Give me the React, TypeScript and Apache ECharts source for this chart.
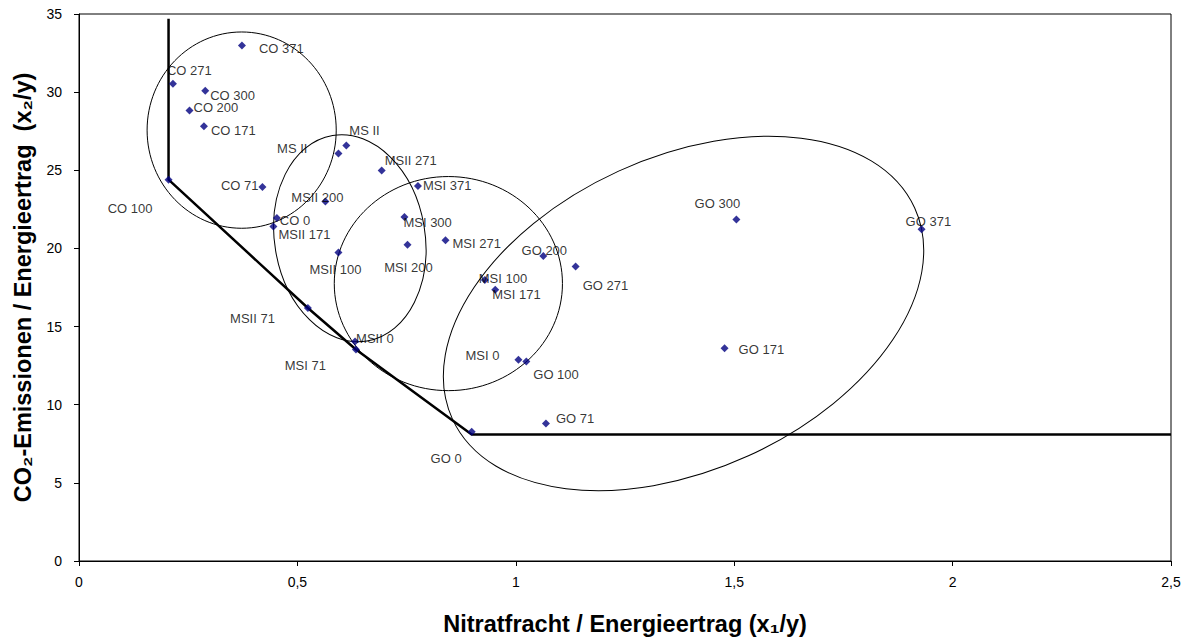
import React, { useEffect, useRef } from "react";
import * as echarts from "echarts";

// ---- data ----
const pointNames = [
  "CO 371", "CO 271", "CO 300", "CO 200", "CO 171", "CO 100", "CO 71", "CO 0",
  "MSII 171", "MS II", "MS II", "MSII 271", "MSI 371", "MSII 200", "MSI 300", "MSI 200",
  "MSII 100", "MSI 271", "MSII 71", "MSII 0", "MSI 71", "MSI 100", "MSI 171", "MSI 0",
  "GO 100", "GO 200", "GO 271", "GO 300", "GO 371", "GO 171", "GO 71", "GO 0",
];
const nitrat = [
  0.373, 0.215, 0.289, 0.253, 0.286, 0.205, 0.42, 0.453,
  0.445, 0.594, 0.612, 0.693, 0.776, 0.564, 0.745, 0.752,
  0.594, 0.839, 0.524, 0.632, 0.634, 0.929, 0.953, 1.006,
  1.024, 1.063, 1.137, 1.505, 1.929, 1.478, 1.069, 0.899,
];
const co2 = [
  32.98, 30.54, 30.09, 28.82, 27.81, 24.4, 23.93, 21.95,
  21.4, 26.07, 26.58, 24.99, 23.99, 23.0, 22.01, 20.23,
  19.74, 20.53, 16.19, 14.04, 13.53, 17.98, 17.36, 12.88,
  12.77, 19.51, 18.85, 21.85, 21.23, 13.62, 8.8, 8.27,
];
// efficiency front (thick black line)
const frontX = [0.205, 0.205, 0.524, 0.634, 0.899, 2.5];
const frontY = [34.7, 24.4, 16.19, 13.53, 8.1, 8.1];
// group ellipses: centre x, centre y, half-width (x units), half-height (y units), tilt (deg)
const ellCx = [0.3724, 0.62, 0.8456, 1.384];
const ellCy = [27.57, 20.65, 17.75, 15.84];
const ellRx = [0.2165, 0.1723, 0.2612, 0.5816];
const ellRy = [6.28, 6.67, 6.85, 10.01];
const ellRot = [0, 9.5, 0, 24.5];
const xTicks = ["0", "0,5", "1", "1,5", "2", "2,5"];

// ---- label layout (text anchor offset from the point centre, px) ----
const labelLayout: [string, number, number][] = [
  ["left", 17, 3], ["left", -6, -13], ["left", 5, 5], ["left", 4, -3], ["left", 7, 4], ["right", -16, 29], ["right", -4, -2], ["left", 3, 3],
  ["left", 5, 8], ["right", -31, -5], ["left", 3, -15], ["left", 3, -10], ["left", 5, -1], ["center", -8, -4], ["left", -1, 5], ["center", 1, 23],
  ["center", -3, 17], ["left", 7, 3], ["right", -33, 11], ["left", 1, -3], ["right", -30, 16], ["left", -6, -1], ["left", -3, 5], ["right", -19, -4],
  ["left", 7, 13], ["center", 1, -6], ["left", 7, 19], ["center", -19, -16], ["left", -16, -8], ["left", 14, 1], ["left", 10, -5], ["right", -10, 27],
];

const FONT = "'Liberation Sans', Arial, Helvetica, sans-serif";
const SYM = 8;

export default function App() {
  const ref = useRef<HTMLDivElement>(null);
  useEffect(() => {
    if (!ref.current) return;
    const chart = echarts.init(ref.current, null, { renderer: "svg" });
    const scatterData = pointNames.map((n, i) => ({
      name: n,
      value: [nitrat[i], co2[i]],
      label: {
        position: [labelLayout[i][1] + SYM / 2, labelLayout[i][2] + SYM / 2],
        align: labelLayout[i][0],
        verticalAlign: "middle",
      },
    }));
    const ellData = ellCx.map((c, i) => [c, ellCy[i], ellRx[i], ellRy[i], ellRot[i]]);
    chart.setOption({
      animation: false,
      backgroundColor: "#fff",
      grid: {
        left: 79, right: 18, top: 14, bottom: 78,
        show: true, borderColor: "#000", borderWidth: 1, backgroundColor: "transparent",
      },
      xAxis: {
        type: "value", min: 0, max: 2.5, interval: 0.5,
        axisLine: { show: true, lineStyle: { color: "#000", width: 1 } },
        axisTick: { show: true, length: 5, inside: false, lineStyle: { color: "#000" } },
        splitLine: { show: false },
        axisLabel: {
          color: "#000", fontSize: 14, fontFamily: FONT, margin: 14,
          formatter: (v: number) => xTicks[Math.round(v / 0.5)] ?? String(v),
        },
        name: "Nitratfracht / Energieertrag (x\u2081/y)",
        nameLocation: "middle", nameGap: 51,
        nameTextStyle: { color: "#000", fontSize: 23.5, fontWeight: "bold", fontFamily: FONT },
      },
      yAxis: {
        type: "value", min: 0, max: 35, interval: 5,
        axisLine: { show: true, lineStyle: { color: "#000", width: 1 } },
        axisTick: { show: true, length: 5, inside: false, lineStyle: { color: "#000" } },
        splitLine: { show: false },
        axisLabel: { color: "#000", fontSize: 14, fontFamily: FONT, margin: 17 },
        name: "CO\u2082-Emissionen / Energieertrag  (x\u2082/y)",
        nameLocation: "middle", nameGap: 44,
        nameTextStyle: { color: "#000", fontSize: 23.5, fontWeight: "bold", fontFamily: FONT },
      },
      series: [
        {
          type: "custom",
          silent: true,
          z: 1,
          clip: false,
          data: ellData,
          encode: { x: 0, y: 1 },
          renderItem: (_p: any, api: any) => {
            const c = api.coord([api.value(0), api.value(1)]);
            const s = api.size([api.value(2), api.value(3)]);
            return {
              type: "ellipse",
              x: c[0], y: c[1],
              rotation: (api.value(4) * Math.PI) / 180,
              shape: { cx: 0, cy: 0, rx: s[0], ry: s[1] },
              style: { fill: "none", stroke: "#000", lineWidth: 1 },
            };
          },
        },
        {
          type: "line",
          silent: true,
          z: 2,
          symbol: "none",
          data: frontX.map((x, i) => [x, frontY[i]]),
          lineStyle: { color: "#000", width: 2.5 },
        },
        {
          type: "scatter",
          z: 3,
          symbol: "diamond",
          symbolSize: SYM,
          itemStyle: { color: "#000080" },
          label: {
            show: true,
            formatter: "{b}",
            color: "#000",
            fontSize: 13,
            fontFamily: FONT,
          },
          labelLayout: { hideOverlap: false },
          data: scatterData,
        },
      ],
    });
    return () => chart.dispose();
  }, []);
  return (
    <div
      ref={ref}
      style={{ position: "fixed", left: 0, top: 0, width: 1189, height: 641, overflow: "hidden" }}
    />
  );
}
